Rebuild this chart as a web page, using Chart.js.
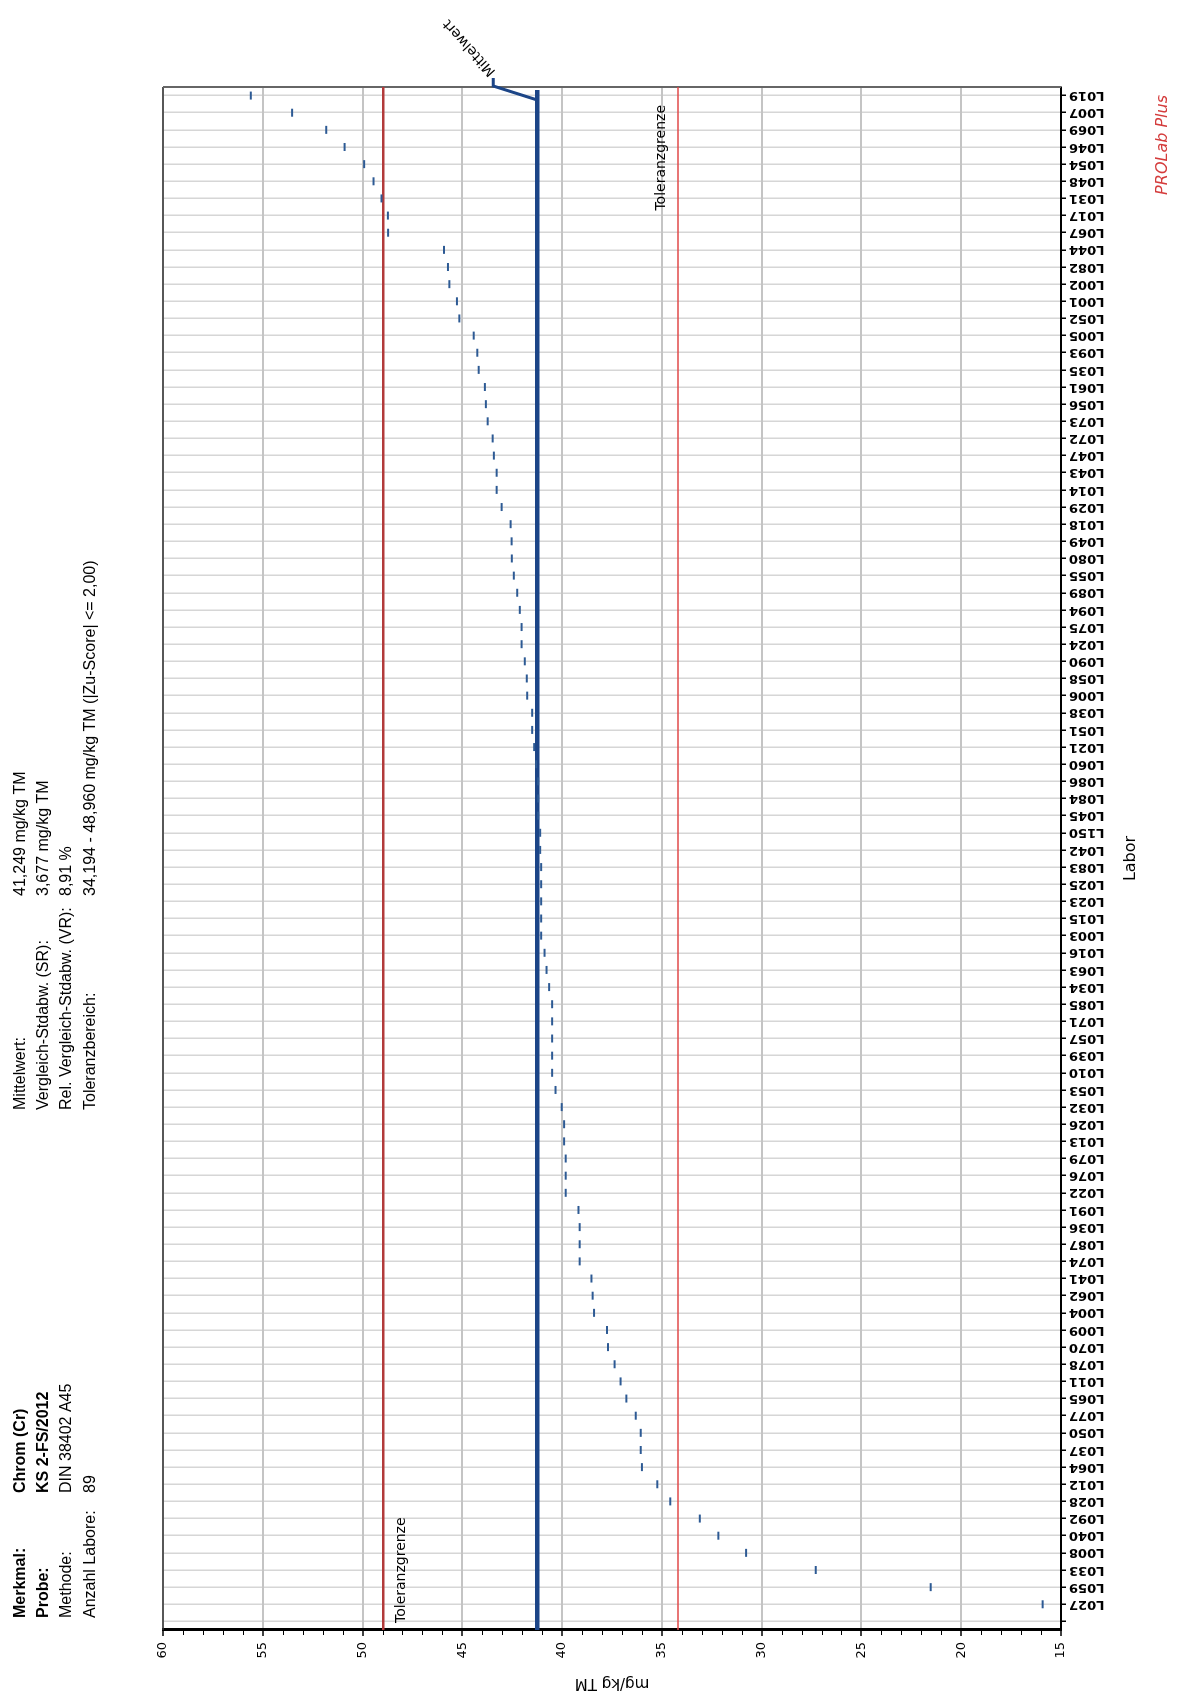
<!DOCTYPE html>
<html><head><meta charset="utf-8">
<style>
html,body{margin:0;padding:0;background:#fff;width:1180px;height:1700px;overflow:hidden;}
#rot{position:absolute;left:0;top:0;width:1700px;height:1180px;background:#fff;transform-origin:0 0;transform:translate(0px,1700px) rotate(-90deg);}
canvas{display:block;}
</style>
<script src="https://cdn.jsdelivr.net/npm/chart.js@4.4.1/dist/chart.umd.min.js"></script>
</head><body>
<div id="rot"><canvas id="c" width="1700" height="1180"></canvas></div>
<script>
// Laboratories (left to right in the landscape chart = bottom to top on the page)
const labs = ["", "L027", "L059", "L033", "L008", "L040", "L092", "L028", "L012", "L064", "L037",
  "L050", "L077", "L065", "L011", "L078", "L070", "L009", "L004", "L062", "L041",
  "L074", "L087", "L036", "L091", "L022", "L076", "L079", "L013", "L026", "L032",
  "L053", "L010", "L039", "L057", "L071", "L085", "L034", "L063", "L016", "L003",
  "L015", "L023", "L025", "L083", "L042", "L150", "L045", "L084", "L086", "L060",
  "L021", "L051", "L038", "L006", "L058", "L090", "L024", "L075", "L094", "L089",
  "L055", "L080", "L049", "L018", "L029", "L014", "L043", "L047", "L072", "L073",
  "L056", "L061", "L035", "L093", "L005", "L052", "L001", "L002", "L082", "L044",
  "L067", "L017", "L031", "L048", "L054", "L046", "L069", "L007", "L019"];
// Measured values, mg/kg TM
const values = [null, 15.92, 21.53, 27.29, 30.78, 32.17, 33.10, 34.58, 35.23, 36.00, 36.06,
  36.06, 36.31, 36.78, 37.07, 37.37, 37.70, 37.75, 38.40, 38.47, 38.53,
  39.12, 39.12, 39.12, 39.18, 39.82, 39.82, 39.82, 39.90, 39.90, 40.02,
  40.33, 40.50, 40.50, 40.50, 40.50, 40.50, 40.65, 40.78, 40.88, 41.05,
  41.05, 41.05, 41.05, 41.05, 41.10, 41.10, 41.20, 41.20, 41.20, 41.30,
  41.40, 41.50, 41.50, 41.75, 41.77, 41.87, 42.03, 42.03, 42.12, 42.25,
  42.42, 42.52, 42.53, 42.58, 43.03, 43.28, 43.28, 43.42, 43.48, 43.73,
  43.82, 43.87, 44.18, 44.25, 44.43, 45.15, 45.27, 45.65, 45.72, 45.92,
  48.72, 48.73, 49.05, 49.45, 49.92, 50.90, 51.82, 53.53, 55.60];
const valueAxisMin = 15, valueAxisMax = 60, valueAxisStep = 5;
const meanValue = 41.249;
const tolUpper = 48.960;
const tolLower = 34.194;
const infoLeftLabels = ["Merkmal:", "Probe:", "Methode:", "Anzahl Labore:"];
const infoLeftValues = ["Chrom (Cr)", "KS 2-FS/2012", "DIN 38402 A45", "89"];
const infoLeftBold = [true, true, false, false];
const infoRightLabels = ["Mittelwert:", "Vergleich-Stdabw. (SR):", "Rel. Vergleich-Stdabw. (VR):", "Toleranzbereich:"];
const infoRightValues = ["41,249 mg/kg TM", "3,677 mg/kg TM", "8,91 %", "34,194 - 48,960 mg/kg TM (|Zu-Score| <= 2,00)"];
const valueAxisTitle = "mg/kg TM";
const labAxisTitle = "Labor";
const meanLabel = "Mittelwert";
const tolLabel = "Toleranzgrenze";
const brand = "PROLab Plus";

const overlay = {
  id: 'overlay',
  beforeDatasetsDraw(chart) {
    const ctx = chart.ctx, a = chart.chartArea, y = chart.scales.y;
    ctx.save();
    // frame
    ctx.strokeStyle = '#333'; ctx.lineWidth = 1.5;
    ctx.beginPath(); ctx.moveTo(a.left, a.top); ctx.lineTo(a.right, a.top); ctx.stroke();
    ctx.strokeStyle = '#666'; ctx.lineWidth = 2;
    ctx.beginPath(); ctx.moveTo(a.right, a.top); ctx.lineTo(a.right, a.bottom); ctx.stroke();
    // minor ticks
    ctx.strokeStyle = '#000'; ctx.lineWidth = 1;
    for (let v = valueAxisMin; v <= valueAxisMax; v++) {
      if (v % valueAxisStep === 0) continue;
      const py = Math.round(y.getPixelForValue(v)) + 0.5;
      ctx.beginPath(); ctx.moveTo(a.left - 5, py); ctx.lineTo(a.left - 1, py); ctx.stroke();
    }
    const up = y.getPixelForValue(tolUpper), lo = y.getPixelForValue(tolLower), mp = y.getPixelForValue(meanValue);
    // tolerance lines
    ctx.strokeStyle = '#b23a3a'; ctx.lineWidth = 2.5;
    ctx.beginPath(); ctx.moveTo(a.left, up); ctx.lineTo(a.right, up); ctx.stroke();
    ctx.strokeStyle = '#e04848'; ctx.lineWidth = 1.5;
    ctx.beginPath(); ctx.moveTo(a.left, lo); ctx.lineTo(a.right, lo); ctx.stroke();
    // mean line + leader
    ctx.strokeStyle = '#1c4587'; ctx.lineWidth = 4.5;
    ctx.beginPath(); ctx.moveTo(a.left, mp); ctx.lineTo(a.right - 3, mp); ctx.stroke();
    ctx.lineWidth = 3;
    ctx.beginPath(); ctx.moveTo(a.right - 13, mp); ctx.lineTo(a.right + 1, mp - 44); ctx.lineTo(a.right + 9, mp - 44); ctx.stroke();
    // tolerance labels
    ctx.fillStyle = '#000'; ctx.font = '14px "DejaVu Sans"';
    ctx.textBaseline = 'alphabetic';
    ctx.textAlign = 'left';
    ctx.fillText(tolLabel, a.left + 7, up + 22);
    ctx.textAlign = 'right';
    ctx.fillText(tolLabel, a.right - 18, lo - 13);
    // mean label
    ctx.save();
    ctx.translate(a.right + 13, mp - 44);
    ctx.rotate(-42 * Math.PI / 180);
    ctx.textAlign = 'left'; ctx.textBaseline = 'middle';
    ctx.fillText(meanLabel, 0, 0);
    ctx.restore();
    ctx.restore();
  },
  afterDraw(chart) {
    const ctx = chart.ctx, a = chart.chartArea;
    ctx.save();
    ctx.fillStyle = '#000';
    const rowsY = [25, 48, 71, 95];
    ctx.textAlign = 'left'; ctx.textBaseline = 'alphabetic';
    for (let i = 0; i < 4; i++) {
      ctx.font = (infoLeftBold[i] ? 'bold ' : '') + '16px "Liberation Sans"';
      ctx.fillText(infoLeftLabels[i], 82, rowsY[i]);
      ctx.fillText(infoLeftValues[i], 207, rowsY[i]);
      ctx.font = '16px "Liberation Sans"';
      ctx.fillText(infoRightLabels[i], 590, rowsY[i]);
      ctx.fillText(infoRightValues[i], 804, rowsY[i]);
    }
    // axis titles
    ctx.font = '16px "DejaVu Sans"';
    ctx.textAlign = 'center'; ctx.textBaseline = 'middle';
    ctx.fillText(labAxisTitle, (a.left + a.right) / 2, 1131);
    ctx.save();
    ctx.translate(17, (a.top + a.bottom) / 2);
    ctx.rotate(-Math.PI / 2);
    ctx.font = '15px "DejaVu Sans"';
    ctx.fillText(valueAxisTitle, 0, 0);
    ctx.restore();
    // brand
    ctx.font = 'italic 16px "DejaVu Sans"';
    ctx.fillStyle = '#d43c3c';
    ctx.textAlign = 'right';
    ctx.fillText(brand, a.right - 8, 1163);
    ctx.restore();
  }
};

new Chart(document.getElementById('c'), {
  type: 'line',
  data: {
    labels: labs,
    datasets: [{
      data: values,
      showLine: false,
      pointStyle: 'line',
      pointRadius: 4,
      pointHoverRadius: 4,
      pointBorderWidth: 2,
      pointBorderColor: '#2d5a94',
      borderColor: '#2d5a94',
      backgroundColor: '#2d5a94'
    }]
  },
  options: {
    responsive: false,
    devicePixelRatio: 1,
    animation: false,
    events: [],
    layout: { padding: { left: 0, top: 163, right: 87, bottom: 0 } },
    plugins: { legend: { display: false }, tooltip: { enabled: false } },
    scales: {
      x: {
        type: 'category',
        offset: true,
        grid: { offset: false, color: '#d6d6d6', lineWidth: 1.5, tickLength: 5, tickColor: '#000', tickWidth: 1.5, drawTicks: true },
        border: { display: true, color: '#000', width: 2 },
        ticks: { autoSkip: false, maxRotation: 90, minRotation: 90, padding: 3, color: '#000', font: { family: 'DejaVu Sans', size: 13, weight: 'bold' } },
        afterFit(scale) { scale.height = 119; }
      },
      y: {
        type: 'linear',
        min: valueAxisMin, max: valueAxisMax,
        ticks: { stepSize: valueAxisStep, padding: 6, color: '#000', font: { family: 'DejaVu Sans', size: 13 } },
        grid: { color: '#c4c4c4', lineWidth: 2, tickLength: 6, tickColor: '#000', tickWidth: 1.5 },
        border: { display: true, color: '#000', width: 3 },
        afterFit(scale) { scale.width = 70; }
      }
    }
  },
  plugins: [overlay]
});
</script>
</body></html>
